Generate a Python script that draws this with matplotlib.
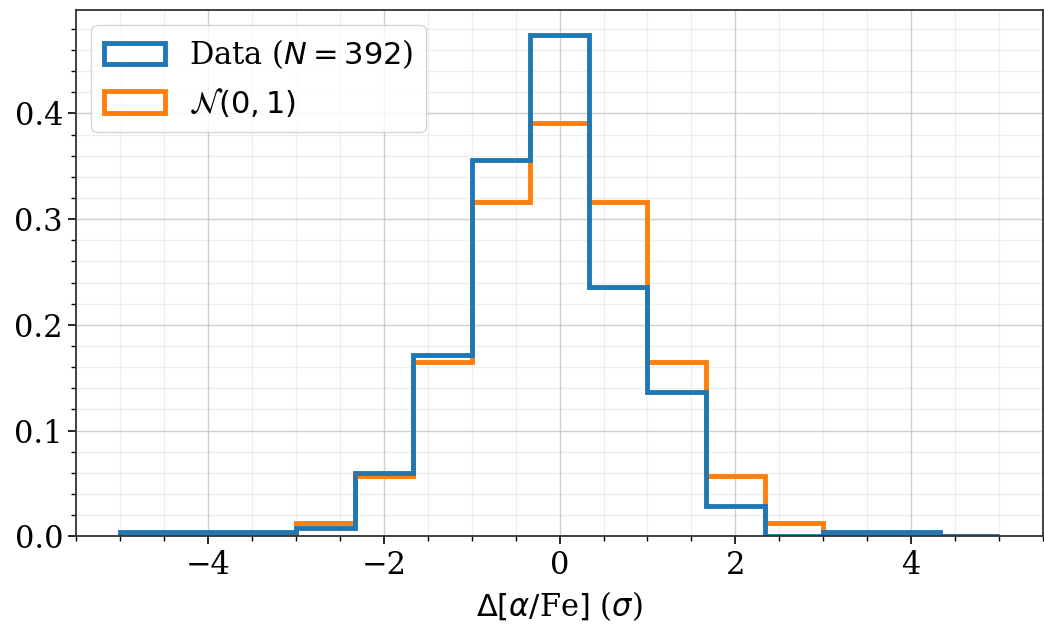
import numpy as np
import matplotlib
matplotlib.use("Agg")
import matplotlib.pyplot as plt
from matplotlib.ticker import MultipleLocator

# --- DATA ---
BIN_EDGES = np.linspace(-5, 5, 16)
DATA_DENSITY = [0.004, 0.004, 0.004, 0.008, 0.060, 0.171, 0.356, 0.474,
                0.236, 0.1365, 0.029, 0.0, 0.004, 0.004, 0.0]
NORMAL_DENSITY = [0.0, 0.0, 0.0018, 0.0127, 0.057, 0.165, 0.316, 0.391,
                  0.316, 0.165, 0.057, 0.0127, 0.0018, 0.0, 0.0]
N_DATA = 392

plt.rcParams['font.family'] = ['DejaVu Serif']
plt.rcParams['mathtext.fontset'] = 'dejavusans'
plt.rcParams['font.size'] = 22

fig, ax = plt.subplots(figsize=(10.44, 6.28), dpi=100)
fig.subplots_adjust(left=0.073, right=0.999, bottom=0.146, top=0.984)

centers = 0.5 * (BIN_EDGES[:-1] + BIN_EDGES[1:])

# orange first so blue sits on top where they overlap
_, _, p_norm = ax.hist(centers, bins=BIN_EDGES, weights=NORMAL_DENSITY,
                       histtype='step', lw=3.5, color='C1', label=r'$\mathcal{N}(0,1)$')
_, _, p_data = ax.hist(centers, bins=BIN_EDGES, weights=DATA_DENSITY,
                       histtype='step', lw=3.5, color='C0', label=rf'Data ($N={N_DATA}$)')

ax.set_xlabel(r'$\Delta[\alpha/$Fe$]$ ($\sigma$)', labelpad=6)

ax.xaxis.set_minor_locator(MultipleLocator(0.5))
ax.yaxis.set_minor_locator(MultipleLocator(0.02))
ax.tick_params(which='major', direction='out', length=6, width=1.2, labelsize=22)
ax.tick_params(which='minor', direction='out', length=3.5, width=1)
ax.grid(which='major', color='#b0b0b0', alpha=0.6, lw=1)
ax.grid(which='minor', color='#b0b0b0', alpha=0.2, lw=1)
ax.set_axisbelow(True)
for sp in ax.spines.values():
    sp.set_linewidth(1.3)
    sp.set_color('#333333')

ax.legend(handles=[p_data[0], p_norm[0]], loc='upper left', fontsize=22)

plt.savefig('out.png', dpi=100)
